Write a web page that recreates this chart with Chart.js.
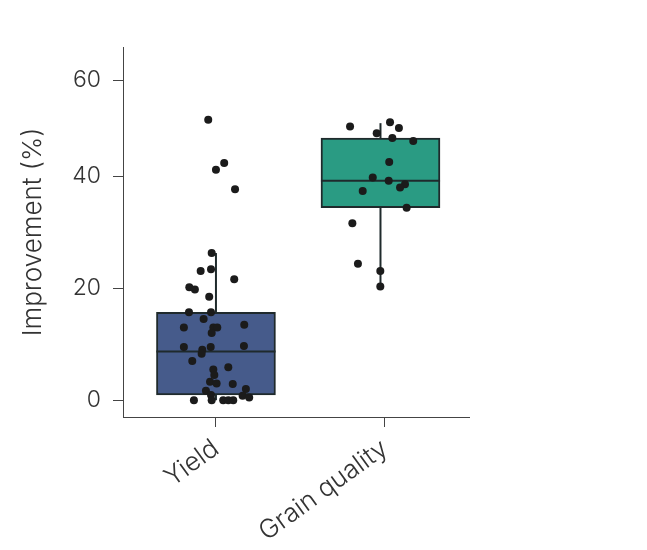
<!DOCTYPE html>
<html>
<head>
<meta charset="utf-8">
<script src="https://cdn.jsdelivr.net/npm/chart.js@4/dist/chart.umd.min.js"></script>
<style>
  html, body { margin: 0; padding: 0; background: #fff; }
  #wrap { width: 647px; height: 550px; }
</style>
</head>
<body>
<div id="wrap"><canvas id="box-chart"></canvas></div>
<script>
// categories and where their ticks sit on the x axis
const categories = ['Yield', 'Grain quality'];
const boxCenters = [0, 1];
const tickPos = [0, 1.027];

// box stats per category: [whisker low, q1, median, q3, whisker high]
const boxStats = [
  [0, 0.95, 8.7, 15.7, 26.3],
  [20.3, 34.4, 39.2, 48.0, 51.1]
];
const boxColors = ['#465b8b', '#2a9b83'];

// jittered points (x offset around the category, value)
const yieldX = [-0.047, 0.050, 0, 0.116, -0.026, -0.093, -0.030, 0.111, -0.162, -0.128,
  -0.041, -0.164, -0.030, -0.075, -0.195, -0.016, 0.008, -0.026, 0.172, -0.195,
  -0.032, -0.083, -0.087, 0.170, -0.144, -0.016, 0.075, -0.010, -0.036, 0.004,
  0.102, -0.061, 0.182, -0.030, 0.162, 0.202, -0.134, -0.026, 0.044, 0.075, 0.105];
const yieldY = [51.8, 42.8, 41.4, 37.7, 26.3, 23.1, 23.4, 21.6, 20.2, 19.8,
  18.5, 15.7, 15.7, 14.5, 13.0, 13.0, 13.0, 12.0, 13.5, 9.5,
  9.5, 9.0, 8.3, 9.7, 7.0, 5.5, 5.9, 4.5, 3.3, 3.0,
  2.9, 1.7, 2.0, 0.95, 0.8, 0.5, 0, 0, 0, 0, 0];
const grainX = [0.815, 1.058, 1.112, 0.977, 1.072, 1.199, 1.053, 0.953, 1.050, 1.149,
  1.119, 0.892, 1.159, 0.829, 0.863, 0.999, 0.999];
const grainY = [50.4, 51.3, 50.1, 49.0, 48.0, 47.4, 43.0, 39.8, 39.2, 38.6,
  38.0, 37.4, 34.4, 31.6, 24.4, 23.1, 20.3];

const yTicks = [0, 20, 40, 60];

// the source axis is squeezed above 40 (40->60 is shorter than 0->20)
const BREAK = 40, SQUEEZE = 0.856;
function fwd(v) { return v <= BREAK ? v : BREAK + (v - BREAK) * SQUEEZE; }
function inv(t) { return t <= BREAK ? t : BREAK + (t - BREAK) / SQUEEZE; }

class SqueezedScale extends Chart.LinearScale {
  getPixelForValue(value) {
    if (value === null || value === undefined || isNaN(value)) return NaN;
    const s = fwd(this.min), e = fwd(this.max);
    return this.getPixelForDecimal((fwd(value) - s) / (e - s));
  }
  getValueForPixel(pixel) {
    const s = fwd(this.min), e = fwd(this.max);
    return inv(s + this.getDecimalForPixel(pixel) * (e - s));
  }
}
SqueezedScale.id = 'squeezed';
SqueezedScale.defaults = Chart.LinearScale.defaults;
Chart.register(SqueezedScale);

const halfBox = 0.362;
const edge = '#1f2a2c';
const textColor = '#333';
const fontFamily = 'Inter, "Noto Sans", sans-serif';

let datasets = [];

// points on top
datasets.push({
  type: 'scatter',
  data: yieldX.map((x, i) => ({ x: boxCenters[0] + x, y: yieldY[i] }))
    .concat(grainX.map((x, i) => ({ x: x, y: grainY[i] }))),
  pointRadius: 4,
  pointBackgroundColor: '#1b1b1b',
  pointBorderWidth: 0,
  order: 0
});

// medians and whiskers
boxStats.forEach((s, i) => {
  const c = boxCenters[i];
  const segs = [
    [{ x: c - halfBox, y: s[2] }, { x: c + halfBox, y: s[2] }],
    [{ x: c, y: s[3] }, { x: c, y: s[4] }],
    [{ x: c, y: s[0] }, { x: c, y: s[1] }]
  ];
  segs.forEach(seg => {
    datasets.push({
      type: 'line',
      data: seg,
      borderColor: edge,
      borderWidth: 2,
      pointRadius: 0,
      fill: false,
      order: 1
    });
  });
});

// boxes
datasets.push({
  type: 'bar',
  data: boxStats.map((s, i) => ({ x: boxCenters[i], y: [s[1], s[3]] })),
  backgroundColor: boxColors,
  borderColor: edge,
  borderWidth: 2,
  borderSkipped: false,
  barThickness: 119,
  order: 2
});

new Chart(document.getElementById('box-chart'), {
  type: 'bar',
  data: { datasets: datasets },
  options: {
    responsive: true,
    maintainAspectRatio: false,
    animation: false,
    layout: { padding: { top: 47, right: 178, left: 0, bottom: 0 } },
    plugins: {
      legend: { display: false },
      tooltip: { enabled: false }
    },
    scales: {
      x: {
        type: 'linear',
        min: -0.565,
        max: 1.538,
        offset: false,
        afterBuildTicks: scale => { scale.ticks = tickPos.map(v => ({ value: v })); },
        afterFit: scale => { scale.height = 133; },
        ticks: {
          autoSkip: false,
          minRotation: 36,
          maxRotation: 36,
          padding: 6,
          color: textColor,
          font: { family: fontFamily, size: 26, weight: 300 },
          callback: (v) => categories[tickPos.indexOf(v)]
        },
        grid: { display: true, offset: false, drawOnChartArea: false, drawTicks: true, tickLength: 10, color: '#444', lineWidth: 1 },
        border: { display: true, color: '#444', width: 1 }
      },
      y: {
        type: 'squeezed',
        min: -3,
        max: 67,
        afterBuildTicks: scale => { scale.ticks = yTicks.map(v => ({ value: v })); },
        afterFit: scale => { scale.width = 123; },
        ticks: {
          padding: 12,
          color: textColor,
          font: { family: fontFamily, size: 23, weight: 300 },
          callback: v => String(v)
        },
        grid: { display: true, drawOnChartArea: false, drawTicks: true, tickLength: 10, color: '#444', lineWidth: 1 },
        border: { display: true, color: '#444', width: 1 },
        title: {
          display: true,
          text: 'Improvement (%)',
          color: textColor,
          padding: { top: 18, bottom: 0 },
          font: { family: fontFamily, size: 26, weight: 300 }
        }
      }
    }
  }
});
</script>
</body>
</html>
